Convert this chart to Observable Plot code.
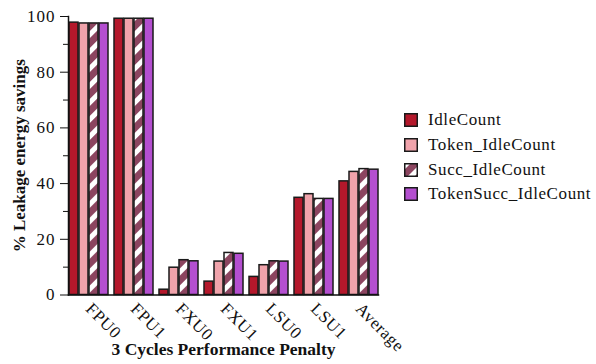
<!DOCTYPE html>
<html>
<head>
<meta charset="utf-8">
<script src="https://cdn.jsdelivr.net/npm/d3@7"></script>
<script src="https://cdn.jsdelivr.net/npm/@observablehq/plot@0.6"></script>
<style>
  html, body { margin: 0; padding: 0; background: #fff; }
  #wrap { position: relative; width: 596px; height: 364px; font-family: "Liberation Serif", "Times New Roman", Times, serif; }
  #wrap svg text { font-family: "Liberation Serif", "Times New Roman", Times, serif; }
  #wrap svg g[aria-label="y-axis tick label"] text { letter-spacing: 1px; }
  #wrap svg g[aria-label="fx-axis tick label"] text { letter-spacing: 0.6px; }
  #wrap svg g[aria-label="x-title"] text { letter-spacing: 0.5px; }
  #legend { position: absolute; left: 404px; top: 108px; }
  .item { display: flex; align-items: center; height: 24.7px; font-size: 17px; letter-spacing: 0.6px; color: #111; }
  .item svg { margin-right: 10px; flex: none; }
</style>
</head>
<body>
<svg width="0" height="0" style="position:absolute">
  <defs>
    <pattern id="hatch" patternUnits="userSpaceOnUse" width="12" height="12" patternTransform="rotate(45)">
      <rect width="12" height="12" fill="#8c4560"></rect>
      <rect width="5" height="12" fill="#ffffff"></rect>
    </pattern>
  </defs>
</svg>
<div id="wrap"><div id="legend"></div></div>
<script>
const categories = ["FPU0", "FPU1", "FXU0", "FXU1", "LSU0", "LSU1", "Average"];
const series = ["IdleCount", "Token_IdleCount", "Succ_IdleCount", "TokenSucc_IdleCount"];
const idleCount = [97.8, 99.2, 1.9, 4.8, 6.5, 34.9, 40.8];
const tokenIdleCount = [97.5, 99.2, 9.8, 12.0, 10.7, 36.2, 44.2];
const succIdleCount = [97.5, 99.2, 12.5, 15.1, 12.1, 34.5, 45.2];
const tokenSuccIdleCount = [97.5, 99.2, 12.1, 14.8, 12.0, 34.5, 45.0];
const yTicks = [0, 20, 40, 60, 80, 100];
const yMinorTicks = [10, 30, 50, 70, 90];
const colors = ["#b4182b", "#f0a3ab", "url(#hatch)", "#b44fd0"];
const yTitle = "% Leakage energy savings";
const xTitle = "3 Cycles Performance Penalty";

const valuesBySeries = [idleCount, tokenIdleCount, succIdleCount, tokenSuccIdleCount];
const data = [];
categories.forEach((c, i) => series.forEach((s, j) => data.push({category: c, series: s, value: valuesBySeries[j][i]})));

const serif = "'Liberation Serif', 'Times New Roman', Times, serif";
const chart = Plot.plot({
  width: 596,
  height: 364,
  marginLeft: 66,
  marginRight: 215,
  marginTop: 16,
  marginBottom: 69.5,
  style: {fontFamily: serif, fontSize: "16px", color: "#111", background: "white"},
  fx: {domain: categories, paddingInner: 0.11, paddingOuter: 0.025, label: null},
  x: {domain: series, paddingInner: 0.1, paddingOuter: 0, axis: null},
  y: {domain: [0, 100], label: null},
  color: {domain: series, range: colors},
  marks: [
    Plot.barY(data, {fx: "category", x: "series", y: "value", fill: "series", stroke: "#1a1a1a", strokeWidth: 1.5}),
    Plot.axisY({ticks: yTicks, tickSize: 8, tickPadding: 5, label: null, stroke: "#111", fontSize: 17}),
    Plot.axisY({ticks: yMinorTicks, tickSize: 5, text: null, label: null, stroke: "#111"}),
    Plot.axisFx({anchor: "bottom", tickRotate: 45, tickSize: 0, tickPadding: 11, label: null, fontSize: 17}),
    Plot.frame({anchor: "left", facet: "super", stroke: "#111", strokeWidth: 1.5}),
    Plot.frame({anchor: "bottom", facet: "super", stroke: "#111", strokeWidth: 1.5}),
    Plot.text([yTitle], {frameAnchor: "left", textAnchor: "middle", dx: -49, rotate: -90, fontWeight: "bold", fontSize: 17, facet: "super"}),
    Plot.text([xTitle], {frameAnchor: "bottom", dy: 60, fontWeight: "bold", fontSize: 17.5, facet: "super", ariaLabel: "x-title"})
  ]
});
const wrap = document.getElementById("wrap");
wrap.insertBefore(chart, wrap.firstChild);

const legend = document.getElementById("legend");
series.forEach((s, j) => {
  const item = document.createElement("div");
  item.className = "item";
  item.innerHTML = `<svg width="14" height="14"><rect x="0.75" y="0.75" width="12.5" height="12.5" fill="${colors[j]}" stroke="#1a1a1a" stroke-width="1.5"></rect></svg><span>${s}</span>`;
  legend.appendChild(item);
});
</script>
</body>
</html>
